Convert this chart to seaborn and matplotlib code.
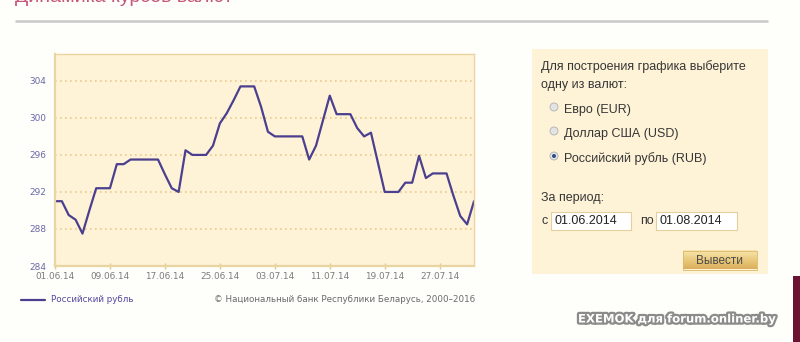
import numpy as np
import pandas as pd
import matplotlib
matplotlib.use("Agg")
import matplotlib.pyplot as plt
import seaborn as sns
from matplotlib.patches import Rectangle, Circle
from matplotlib.colors import LinearSegmentedColormap
import matplotlib.patheffects as pe

# ---------------- data ----------------
start_date = "2014-06-01"
rub_rates = [
    291.0, 291.0, 289.5, 289.0, 287.5, 290.0, 292.4, 292.4, 292.4, 295.0,
    295.0, 295.5, 295.5, 295.5, 295.5, 295.5, 293.9, 292.4, 292.0, 296.5,
    296.0, 296.0, 296.0, 297.0, 299.4, 300.5, 301.9, 303.4, 303.4, 303.4,
    301.2, 298.5, 298.0, 298.0, 298.0, 298.0, 298.0, 295.5, 297.0, 299.7,
    302.4, 300.4, 300.4, 300.4, 298.9, 298.0, 298.4, 295.2, 292.0, 292.0,
    292.0, 293.0, 293.0, 295.9, 293.5, 294.0, 294.0, 294.0, 291.6, 289.4,
    288.5, 291.0,
]
x_tick_labels = ["01.06.14", "09.06.14", "17.06.14", "25.06.14",
                 "03.07.14", "11.07.14", "19.07.14", "27.07.14"]
y_ticks = [284, 288, 292, 296, 300, 304]
series_name = "Российский рубль"
copyright_text = "© Национальный банк Республики Беларусь, 2000–2016"
panel_title = ["Для построения графика выберите", "одну из валют:"]
currency_options = ["Евро (EUR)", "Доллар США (USD)", "Российский рубль (RUB)"]
selected_option = 2
period_label = "За период:"
period_from = "01.06.2014"
period_to = "01.08.2014"
button_label = "Вывести"
page_title = "Динамика курсов валют"
watermark = "EXEMOK для forum.onliner.by"

dates = pd.date_range(start_date, periods=len(rub_rates), freq="D")
df = pd.DataFrame({"date": dates, "rate": rub_rates})

sns.set_theme(style="white")
plt.rcParams["font.family"] = ["DejaVu Sans"]

W, H = 800, 342
fig = plt.figure(figsize=(8, 3.42), dpi=100, facecolor="#FEFEFA")

deco = fig.add_axes([0, 0, 1, 1], zorder=0)
deco.set_xlim(0, W)
deco.set_ylim(H, 0)
deco.axis("off")


def px_rect(x0, y0, x1, y1):
    return [x0 / W, 1 - y1 / H, (x1 - x0) / W, (y1 - y0) / H]


# ---------------- chart ----------------
ax = fig.add_axes(px_rect(55, 54, 474, 266), zorder=2)
ax.set_facecolor("#FEF3D7")
sns.lineplot(data=df, x="date", y="rate", ax=ax, color="#4B3F8F", linewidth=1.6)
ax.set_xlim(dates[0], dates[-1])
ax.set_ylim(284, 306.9)
ax.set_yticks(y_ticks)
ax.set_yticklabels([str(v) for v in y_ticks])
tick_dates = pd.to_datetime(x_tick_labels, format="%d.%m.%y")
ax.set_xticks(tick_dates)
ax.set_xticklabels(x_tick_labels)
ax.set_xlabel("")
ax.set_ylabel("")
ax.grid(axis="y", color="#EACB8E", linestyle=(0, (1, 2)), linewidth=1.2)
ax.grid(axis="x", visible=False)
for side, sp in ax.spines.items():
    sp.set_color("#EAD5A2")
    sp.set_linewidth(1.0)
ax.spines["bottom"].set_linewidth(1.6)
ax.spines["left"].set_linewidth(1.6)
ax.tick_params(axis="x", direction="inout", length=5, width=1, color="#E3C98E",
               labelcolor="#7C7C7C", labelsize=6.4, pad=2.0, bottom=True)
ax.tick_params(axis="y", length=0, labelcolor="#6A67A6", labelsize=6.4, pad=6.5, left=True)

# ---------------- page decorations ----------------
deco.text(15, 1.8, page_title, fontsize=14, color="#C4577A", family="Liberation Sans",
          va="baseline", ha="left", clip_on=True)
deco.plot([15, 768], [20.7, 20.7], color="#CBCBCB", lw=1.9, solid_capstyle="butt")

# legend & copyright
deco.plot([21, 45], [300, 300], color="#4B3F8F", lw=1.6)
deco.text(51, 300, series_name, fontsize=6.3, color="#5547A0", va="center", ha="left")
deco.text(214, 300, copyright_text, fontsize=6.3, color="#6A6A6A", va="center", ha="left")

# right panel
deco.add_patch(Rectangle((532, 49), 236, 225, facecolor="#FEF3D7", edgecolor="none"))
sans = "Liberation Sans"
txt_col = "#363636"
deco.text(541, 66.5, panel_title[0], fontsize=9, color=txt_col, family=sans, va="center")
deco.text(541, 85, panel_title[1], fontsize=9, color=txt_col, family=sans, va="center")
for i, (opt, yy) in enumerate(zip(currency_options, [108, 132, 157])):
    deco.add_patch(Circle((554, yy - 1), 4, facecolor="#E4E4E4", edgecolor="#AFAFAF", lw=0.6))
    if i == selected_option:
        deco.add_patch(Circle((554, yy - 1), 2, facecolor="#2C4E8C", edgecolor="none"))
    deco.text(564, yy + 1.5, opt, fontsize=9, color=txt_col, family=sans, va="center")

deco.text(541, 198.5, period_label, fontsize=9, color=txt_col, family=sans, va="center")
deco.text(541, 220.5, "с", fontsize=9, color=txt_col, family=sans, va="center")
deco.add_patch(Rectangle((551, 211.5), 80, 18, facecolor="white", edgecolor="#E6CF9C", lw=0.8))
deco.text(554.5, 220.5, period_from, fontsize=9, color="#222222", family=sans, va="center")
deco.text(640, 220.5, "по", fontsize=9, color=txt_col, family=sans, va="center")
deco.add_patch(Rectangle((656, 211.5), 81, 18, facecolor="white", edgecolor="#E6CF9C", lw=0.8))
deco.text(659, 220.5, period_to, fontsize=9, color="#222222", family=sans, va="center")

# button with gradient
grad = np.linspace(0, 1, 50).reshape(-1, 1)
btn_cmap = LinearSegmentedColormap.from_list("btn", ["#F7E6B0", "#EBCB7E", "#DBAE5C"])
deco.imshow(grad, extent=(682.5, 756.5, 269.5, 251), cmap=btn_cmap, aspect="auto", zorder=1)
deco.add_patch(Rectangle((682.5, 251), 74, 18.5, facecolor="none", edgecolor="#D9B868", lw=0.6, zorder=2))
deco.text(719.5, 260.5, button_label, fontsize=8.5, color="#4A4A4A", family=sans,
          va="center", ha="center", zorder=3)
deco.set_xlim(0, W)
deco.set_ylim(H, 0)

# right dark strip
deco.add_patch(Rectangle((793, 276), 7, 66, facecolor="#6B1232", edgecolor="none"))

# watermark
deco.text(578, 319, watermark, fontsize=8.4, fontweight="bold", color="white",
          va="center", ha="left",
          path_effects=[pe.withStroke(linewidth=3.2, foreground="#5A5A5A", alpha=0.7)])

fig.savefig("out.png", dpi=100, facecolor=fig.get_facecolor())
